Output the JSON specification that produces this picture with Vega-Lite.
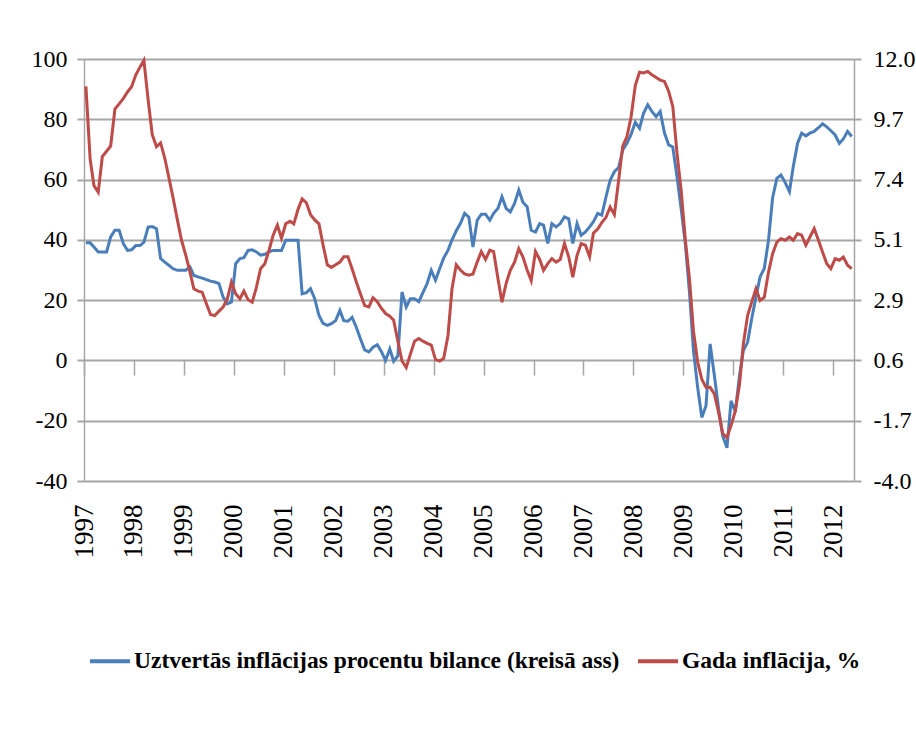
{
  "$schema": "https://vega.github.io/schema/vega-lite/v6.json",
  "width": 770,
  "height": 422,
  "autosize": {"type": "none"},
  "padding": {"left": 84, "top": 59, "right": 62, "bottom": 249},
  "background": "white",
  "config": {
    "locale": {"number": {"decimal": ".", "thousands": ",", "grouping": [3], "currency": ["", ""], "minus": "-"}},
    "view": {"stroke": null},
    "axis": {"labelFont": "Liberation Serif", "labelColor": "#000000", "labelFontSize": 24}
  },
  "data": {"values": [
    {"d":"1997-01-15","b":39,"r":10.96},{"d":"1997-02-15","b":39,"r":8.2},{"d":"1997-03-15","b":37.6,"r":7.2},{"d":"1997-04-15","b":36,"r":6.95},{"d":"1997-05-15","b":36,"r":8.3},{"d":"1997-06-15","b":36,"r":8.5},{"d":"1997-07-15","b":41,"r":8.7},{"d":"1997-08-15","b":43.2,"r":10.1},{"d":"1997-09-15","b":43.2,"r":10.3},{"d":"1997-10-15","b":38.8,"r":10.5},{"d":"1997-11-15","b":36.5,"r":10.75},{"d":"1997-12-15","b":36.7,"r":10.95},
    {"d":"1998-01-15","b":38.1,"r":11.4},{"d":"1998-02-15","b":38.1,"r":11.7},{"d":"1998-03-15","b":39.2,"r":11.95},{"d":"1998-04-15","b":44.2,"r":10.45},{"d":"1998-05-15","b":44.4,"r":9.13},{"d":"1998-06-15","b":43.7,"r":8.68},{"d":"1998-07-15","b":33.8,"r":8.82},{"d":"1998-08-15","b":32.6,"r":8.23},{"d":"1998-09-15","b":31.5,"r":7.47},{"d":"1998-10-15","b":30.4,"r":6.72},{"d":"1998-11-15","b":29.9,"r":5.89},{"d":"1998-12-15","b":29.9,"r":5.13},
    {"d":"1999-01-15","b":29.9,"r":4.56},{"d":"1999-02-15","b":31,"r":3.92},{"d":"1999-03-15","b":28.2,"r":3.29},{"d":"1999-04-15","b":27.7,"r":3.2},{"d":"1999-05-15","b":27.3,"r":3.16},{"d":"1999-06-15","b":26.8,"r":2.72},{"d":"1999-07-15","b":26.3,"r":2.31},{"d":"1999-08-15","b":26,"r":2.27},{"d":"1999-09-15","b":25.5,"r":2.44},{"d":"1999-10-15","b":21,"r":2.59},{"d":"1999-11-15","b":18.8,"r":2.91},{"d":"1999-12-15","b":19.4,"r":3.54},
    {"d":"2000-01-15","b":32.1,"r":3.1},{"d":"2000-02-15","b":33.8,"r":2.91},{"d":"2000-03-15","b":34.1,"r":3.2},{"d":"2000-04-15","b":36.5,"r":2.87},{"d":"2000-05-15","b":36.7,"r":2.78},{"d":"2000-06-15","b":36,"r":3.35},{"d":"2000-07-15","b":34.9,"r":4.05},{"d":"2000-08-15","b":35.2,"r":4.24},{"d":"2000-09-15","b":36,"r":4.75},{"d":"2000-10-15","b":36.5,"r":5.32},{"d":"2000-11-15","b":36.5,"r":5.7},{"d":"2000-12-15","b":36.5,"r":5.2},
    {"d":"2001-01-15","b":39.9,"r":5.75},{"d":"2001-02-15","b":39.9,"r":5.85},{"d":"2001-03-15","b":39.9,"r":5.75},{"d":"2001-04-15","b":39.9,"r":6.3},{"d":"2001-05-15","b":22.1,"r":6.7},{"d":"2001-06-15","b":22.5,"r":6.55},{"d":"2001-07-15","b":23.8,"r":6.1},{"d":"2001-08-15","b":20.5,"r":5.9},{"d":"2001-09-15","b":14.9,"r":5.75},{"d":"2001-10-15","b":12.3,"r":4.95},{"d":"2001-11-15","b":11.6,"r":4.2},{"d":"2001-12-15","b":12.2,"r":4.1},
    {"d":"2002-01-15","b":13.2,"r":4.2},{"d":"2002-02-15","b":16.6,"r":4.3},{"d":"2002-03-15","b":13.2,"r":4.5},{"d":"2002-04-15","b":13,"r":4.5},{"d":"2002-05-15","b":14.3,"r":4.05},{"d":"2002-06-15","b":11,"r":3.55},{"d":"2002-07-15","b":7.2,"r":3.1},{"d":"2002-08-15","b":3.5,"r":2.65},{"d":"2002-09-15","b":2.8,"r":2.6},{"d":"2002-10-15","b":4.4,"r":2.95},{"d":"2002-11-15","b":5.2,"r":2.8},{"d":"2002-12-15","b":3,"r":2.55},
    {"d":"2003-01-15","b":0,"r":2.35},{"d":"2003-02-15","b":3.8,"r":2.25},{"d":"2003-03-15","b":-0.3,"r":2.1},{"d":"2003-04-15","b":1.6,"r":1.3},{"d":"2003-05-15","b":22.7,"r":0.55},{"d":"2003-06-15","b":17.7,"r":0.3},{"d":"2003-07-15","b":20.5,"r":0.8},{"d":"2003-08-15","b":20.5,"r":1.3},{"d":"2003-09-15","b":19.5,"r":1.4},{"d":"2003-10-15","b":22.5,"r":1.3},{"d":"2003-11-15","b":25.5,"r":1.22},{"d":"2003-12-15","b":29.9,"r":1.15},
    {"d":"2004-01-15","b":26.6,"r":0.6},{"d":"2004-02-15","b":30.5,"r":0.55},{"d":"2004-03-15","b":34,"r":0.65},{"d":"2004-04-15","b":36.5,"r":1.5},{"d":"2004-05-15","b":40,"r":3.3},{"d":"2004-06-15","b":43,"r":4.2},{"d":"2004-07-15","b":45.4,"r":4.0},{"d":"2004-08-15","b":48.8,"r":3.85},{"d":"2004-09-15","b":47.5,"r":3.8},{"d":"2004-10-15","b":37.6,"r":3.85},{"d":"2004-11-15","b":46.5,"r":4.3},{"d":"2004-12-15","b":48.5,"r":4.7},
    {"d":"2005-01-15","b":48.5,"r":4.4},{"d":"2005-02-15","b":46.5,"r":4.75},{"d":"2005-03-15","b":48.8,"r":4.7},{"d":"2005-04-15","b":50.4,"r":3.7},{"d":"2005-05-15","b":54.3,"r":2.78},{"d":"2005-06-15","b":50.4,"r":3.5},{"d":"2005-07-15","b":49.3,"r":3.99},{"d":"2005-08-15","b":52.1,"r":4.3},{"d":"2005-09-15","b":56.5,"r":4.81},{"d":"2005-10-15","b":52.5,"r":4.5},{"d":"2005-11-15","b":51,"r":4.0},{"d":"2005-12-15","b":43.2,"r":3.6},
    {"d":"2006-01-15","b":42.6,"r":4.7},{"d":"2006-02-15","b":45.4,"r":4.4},{"d":"2006-03-15","b":44.9,"r":3.99},{"d":"2006-04-15","b":38.8,"r":4.24},{"d":"2006-05-15","b":45.4,"r":4.43},{"d":"2006-06-15","b":44.3,"r":4.3},{"d":"2006-07-15","b":45.4,"r":4.4},{"d":"2006-08-15","b":47.6,"r":5.0},{"d":"2006-09-15","b":47,"r":4.5},{"d":"2006-10-15","b":38.8,"r":3.73},{"d":"2006-11-15","b":45.4,"r":4.55},{"d":"2006-12-15","b":41.5,"r":5.0},
    {"d":"2007-01-15","b":42.6,"r":4.94},{"d":"2007-02-15","b":44.3,"r":4.5},{"d":"2007-03-15","b":46,"r":5.4},{"d":"2007-04-15","b":48.8,"r":5.55},{"d":"2007-05-15","b":48.2,"r":5.8},{"d":"2007-06-15","b":54.3,"r":6.0},{"d":"2007-07-15","b":59.8,"r":6.39},{"d":"2007-08-15","b":62.6,"r":6.1},{"d":"2007-09-15","b":64,"r":7.4},{"d":"2007-10-15","b":69.8,"r":8.7},{"d":"2007-11-15","b":72,"r":9.06},{"d":"2007-12-15","b":75,"r":9.8},
    {"d":"2008-01-15","b":79,"r":11.0},{"d":"2008-02-15","b":77,"r":11.5},{"d":"2008-03-15","b":82,"r":11.47},{"d":"2008-04-15","b":84.8,"r":11.53},{"d":"2008-05-15","b":82.6,"r":11.4},{"d":"2008-06-15","b":80.9,"r":11.3},{"d":"2008-07-15","b":82.6,"r":11.2},{"d":"2008-08-15","b":75.5,"r":11.15},{"d":"2008-09-15","b":71.5,"r":10.77},{"d":"2008-10-15","b":70.8,"r":10.2},{"d":"2008-11-15","b":60.9,"r":8.42},{"d":"2008-12-15","b":50.4,"r":7.03},
    {"d":"2009-01-15","b":38.5,"r":5.13},{"d":"2009-02-15","b":22.1,"r":3.61},{"d":"2009-03-15","b":3.3,"r":1.7},{"d":"2009-04-15","b":-9,"r":0.5},{"d":"2009-05-15","b":-18.9,"r":-0.14},{"d":"2009-06-15","b":-15,"r":-0.45},{"d":"2009-07-15","b":5.5,"r":-0.45},{"d":"2009-08-15","b":-5,"r":-0.7},{"d":"2009-09-15","b":-16,"r":-1.4},{"d":"2009-10-15","b":-25,"r":-2.2},{"d":"2009-11-15","b":-29,"r":-2.35},{"d":"2009-12-15","b":-13.4,"r":-1.9},
    {"d":"2010-01-15","b":-17,"r":-1.35},{"d":"2010-02-15","b":-5,"r":-0.33},{"d":"2010-03-15","b":3.3,"r":1.2},{"d":"2010-04-15","b":6,"r":2.27},{"d":"2010-05-15","b":13.8,"r":2.78},{"d":"2010-06-15","b":21,"r":3.29},{"d":"2010-07-15","b":27.7,"r":2.84},{"d":"2010-08-15","b":30.5,"r":2.97},{"d":"2010-09-15","b":39.9,"r":3.92},{"d":"2010-10-15","b":54,"r":4.62},{"d":"2010-11-15","b":60.4,"r":5.06},{"d":"2010-12-15","b":61.5,"r":5.19},
    {"d":"2011-01-15","b":59,"r":5.13},{"d":"2011-02-15","b":56,"r":5.25},{"d":"2011-03-15","b":64.3,"r":5.13},{"d":"2011-04-15","b":72,"r":5.38},{"d":"2011-05-15","b":75.4,"r":5.32},{"d":"2011-06-15","b":74.5,"r":4.94},{"d":"2011-07-15","b":75.4,"r":5.25},{"d":"2011-08-15","b":76,"r":5.57},{"d":"2011-09-15","b":77.2,"r":5.13},{"d":"2011-10-15","b":78.5,"r":4.68},{"d":"2011-11-15","b":77.5,"r":4.24},{"d":"2011-12-15","b":76.2,"r":4.05},
    {"d":"2012-01-15","b":74.8,"r":4.43},{"d":"2012-02-15","b":72,"r":4.37},{"d":"2012-03-15","b":73.5,"r":4.49},{"d":"2012-04-15","b":76,"r":4.18},{"d":"2012-05-15","b":74.3,"r":4.05}
  ]},
  "layer": [
    {
      "mark": {"type": "line", "strokeWidth": 3},
      "encoding": {
        "x": {
          "field": "d", "type": "temporal",
          "scale": {"domain": [{"year": 1997, "month": 1, "date": 1}, {"year": 2012, "month": 6, "date": 1}]},
          "axis": {"title": null, "orient": "bottom", "tickCount": {"interval": "year", "step": 1}, "format": "%Y", "labelAngle": 270, "labelPadding": 23, "ticks": false, "tickSize": 0, "domain": false, "grid": false, "labelFontSize": 27, "labelOverlap": false, "labelFlush": false}
        },
        "y": {
          "field": "b", "type": "quantitative",
          "scale": {"domain": [-40, 100]},
          "axis": {"title": null, "values": [-40, -20, 0, 20, 40, 60, 80, 100], "grid": true, "gridColor": "#a6a6a6", "gridWidth": 2, "domainColor": "#a6a6a6", "domainWidth": 1.5, "tickColor": "#a6a6a6", "tickWidth": 2, "tickSize": 7, "labelPadding": 10}
        },
        "color": {
          "datum": "Uztvertās inflācijas procentu bilance (kreisā ass)",
          "scale": {"domain": ["Uztvertās inflācijas procentu bilance (kreisā ass)", "Gada inflācija, %"], "range": ["#4a7ebb", "#be4b48"]},
          "legend": {"orient": "none", "legendX": 4, "legendY": 580, "direction": "horizontal", "title": null, "symbolType": "stroke", "symbolSize": 1600, "symbolStrokeWidth": 4, "labelFont": "Liberation Serif", "labelFontWeight": "bold", "labelFontSize": 23.5, "labelColor": "#000000", "labelLimit": 1000, "columnPadding": 10, "labelOffset": 2}
        }
      }
    },
    {
      "mark": {"type": "line", "strokeWidth": 3},
      "encoding": {
        "x": {
          "field": "d", "type": "temporal",
          "axis": {"title": null, "orient": "bottom", "tickCount": {"interval": "year", "step": 1}, "labels": false, "ticks": true, "tickSize": 15, "tickColor": "#a6a6a6", "tickWidth": 1.5, "domain": false, "grid": false, "offset": -121}
        },
        "y": {
          "field": "r", "type": "quantitative",
          "scale": {"domain": [-4, 12]},
          "axis": {"title": null, "orient": "right", "values": [-4, -1.7142857, 0.5714286, 2.8571429, 5.1428571, 7.4285714, 9.7142857, 12], "format": ".1f", "grid": false, "domainColor": "#a6a6a6", "domainWidth": 1.5, "tickColor": "#a6a6a6", "tickWidth": 2, "tickSize": 7, "labelPadding": 12}
        },
        "color": {"datum": "Gada inflācija, %"}
      }
    }
  ],
  "resolve": {"scale": {"y": "independent"}, "axis": {"x": "independent"}}
}
